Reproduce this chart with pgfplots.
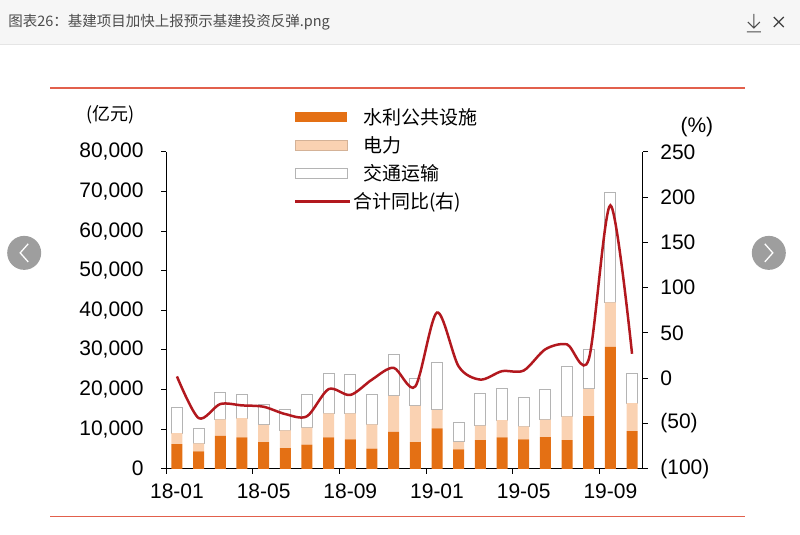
\documentclass[border=0pt]{standalone}
\usepackage{pgfplots}
\pgfplotsset{compat=1.18}
\usepackage{pgfplotstable}
\usepackage{fontspec}
\setmainfont{Liberation Sans}
\newfontfamily\cjk{Noto Sans CJK SC}

\definecolor{shuili}{RGB}{228,112,20}
\definecolor{dianli}{RGB}{250,210,178}
\definecolor{jiaotong}{RGB}{180,180,180}
\definecolor{tongbi}{RGB}{178,24,30}
\definecolor{rulered}{RGB}{226,96,76}
\definecolor{headbg}{RGB}{246,246,246}

% month, 水利公共设施, 电力, 交通运输 (亿元), 合计同比 (%)
\pgfplotstableread{
m  shuili dianli jiaotong yoy
1  6200   2800   6600     2
2  4400   2000   3800     -44
3  8300   4200   6700     -28.5
4  7900   4900   5900     -30
5  6700   4400   5200     -31.5
6  5200   4500   5300     -39.6
7  6100   4300   8300     -42
8  7900   6100   10000    -12
9  7400   6600   9900     -18.5
10 5100   6100   7700     -1.5
11 9300   9100   10400    11.5
12 6700   9200   6900     -9
13 10200  4700   12000    72.6
14 4900   1900   4800     13
15 7200   3700   8200     -1.5
16 7900   4400   7900     7.8
17 7400   3300   7400     8.5
18 8000   4400   7600     32
19 7200   6000   12700    37.4
20 13300  6900   10000    20.7
21 30800  11200  27800    191
22 9500   7100   7600     27
}\data

\begin{document}
\begin{tikzpicture}[x=1pt,y=1pt]
\path (0,0) rectangle (800,535);
% viewer header
\fill[headbg] (0,491) rectangle (800,535);
\draw[black!10] (0,491) -- (800,491);
\node[anchor=west, text=black!70, font=\cjk\fontsize{14.5}{16}\selectfont, inner sep=0pt] at (8,513) {图表26：基建项目加快上报预示基建投资反弹.png};
\draw[black!70, line width=1pt] (754,521) -- (754,507) (748,513) -- (754,507) -- (760,513) (747,503) -- (761,503);
\draw[black!75, line width=1.2pt] (774,518) -- (784,508) (774,508) -- (784,518);
% navigation circles
\fill[black!38] (24,282) circle (17);
\draw[white, line width=1.3pt] (28,291) -- (20,282) -- (28,273);
\fill[black!38] (769,282) circle (17);
\draw[white, line width=1.3pt] (765,291) -- (773,282) -- (765,273);
% red rules
\draw[rulered, line width=1.4pt] (50,447) -- (745,447);
\draw[rulered, line width=1.4pt] (50,18) -- (745,18);
% unit labels
\node[font=\cjk\fontsize{18}{20}\selectfont] at (110,420) {(亿元)};
\node[font=\fontsize{21}{24}\selectfont] at (697,408) {(\%)};

\begin{axis}[
  at={(166pt,66pt)}, anchor=south west, scale only axis,
  width=477pt, height=317pt,
  ybar stacked, bar width=11pt,
  xmin=0.5, xmax=22.5, ymin=0, ymax=80000,
  enlargelimits=false,
  axis x line*=bottom, axis y line*=left,
  axis line style={black, line width=1pt},
  tick align=outside, major tick length=5pt,
  tick style={black, line width=1pt},
  xtick={0.5,4.5,8.5,12.5,16.5,20.5},
  xticklabels={18-01,18-05,18-09,19-01,19-05,19-09},
  xticklabel style={xshift=10.84pt, yshift=-7pt},
  ytick={0,10000,...,80000},
  scaled y ticks=false,
  yticklabel style={xshift=-14pt, /pgf/number format/.cd, fixed, 1000 sep={,}},
  /pgf/number format/assume math mode=true,
  ticklabel style={font=\fontsize{21}{24}\selectfont},
  legend style={at={(0.262,1.15)}, anchor=north west, draw=none, fill=none,
    font=\cjk\fontsize{19}{22}\selectfont, row sep=6.5pt},
  legend cell align=left,
]
\addplot[fill=shuili, draw=none,
  legend image code/.code={\fill[shuili] (0pt,-5pt) rectangle (52pt,5pt); \path[draw=none,fill=none] (0pt,0pt) -- (66pt,0pt);}]
  table[x=m, y=shuili] {\data};
\addlegendentry{水利公共设施}
\addplot[fill=dianli, draw=none,
  legend image code/.code={\draw[fill=dianli, draw=dianli!85!black] (0pt,-5pt) rectangle (52pt,5pt); \path[draw=none,fill=none] (0pt,0pt) -- (66pt,0pt);}]
  table[x=m, y=dianli] {\data};
\addlegendentry{电力}
\addplot[fill=white, draw=jiaotong, line width=0.8pt,
  legend image code/.code={\draw[fill=white, draw=jiaotong, line width=0.8pt] (0pt,-5pt) rectangle (52pt,5pt); \path[draw=none,fill=none] (0pt,0pt) -- (66pt,0pt);}]
  table[x=m, y=jiaotong] {\data};
\addlegendentry{交通运输}
\addlegendimage{tongbi, line width=2.5pt, legend image code/.code={\draw[tongbi, line width=2.5pt] (0pt,0pt) -- (55pt,0pt); \path[draw=none,fill=none] (0pt,0pt) -- (66pt,0pt);}}
\addlegendentry{\hspace{-10pt}合计同比(右)}
\end{axis}

\begin{axis}[
  at={(166pt,66pt)}, anchor=south west, scale only axis,
  width=477pt, height=317pt,
  xmin=0.5, xmax=22.5, ymin=-100, ymax=250,
  axis x line=none, axis y line*=right,
  axis line style={black, line width=1pt},
  tick align=outside, major tick length=5pt,
  tick style={black, line width=1pt},
  ytick={-100,-50,0,50,100,150,200,250},
  yticklabels={(100),(50),0,50,100,150,200,250},
  yticklabel style={xshift=9pt},
  ticklabel style={font=\fontsize{21}{24}\selectfont},
]
\addplot[tongbi, line width=2.5pt, smooth, mark=none] table[x=m, y=yoy] {\data};
\end{axis}
\end{tikzpicture}
\end{document}
